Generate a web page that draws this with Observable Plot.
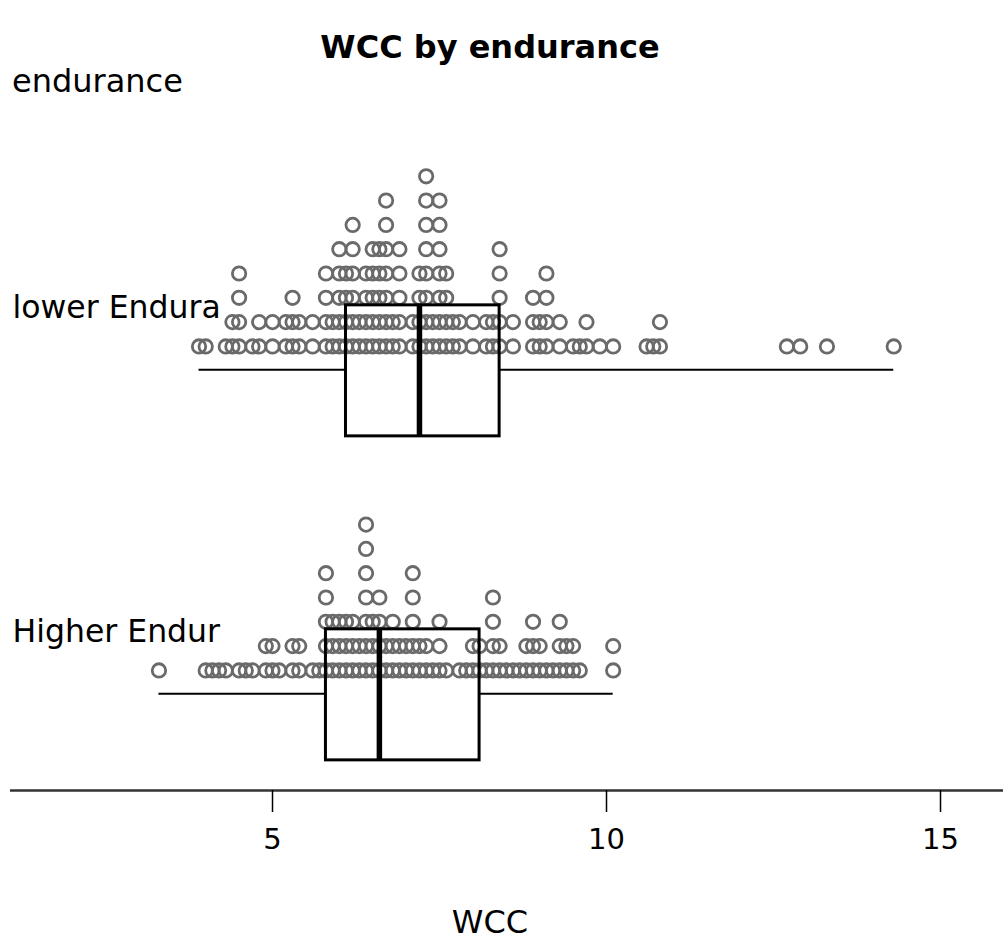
<!DOCTYPE html>
<html>
<head>
<meta charset="utf-8">
<script src="https://cdn.jsdelivr.net/npm/d3@7"></script>
<script src="https://cdn.jsdelivr.net/npm/@observablehq/plot@0.6"></script>
<style>
  body { margin: 0; background: #fff; }
  #chart { position: relative; width: 1005px; height: 947px; font-family: "DejaVu Sans", sans-serif; color: #000; }
  #chart svg { position: absolute; left: 0; top: 0; }
  .lbl { position: absolute; white-space: nowrap; }
</style>
</head>
<body>
<div id="chart">
  <div class="lbl" style="left:0;width:980px;text-align:center;top:31px;font-size:32px;line-height:32px;font-weight:bold">WCC by endurance</div>
  <div class="lbl" style="left:12px;top:65px;font-size:32px;line-height:32px">endurance</div>
  <div class="lbl" style="left:0;width:980px;text-align:center;top:906px;font-size:32px;line-height:32px">WCC</div>
</div>
<script>
// Group labels (as printed, truncated)
const groups = ["lower Endura", "Higher Endur"];

// White cell count readings for each endurance group
const lowerWCC = [
  3.9, 4.0, 4.3, 4.4, 4.4, 4.5, 4.5, 4.5, 4.5, 4.7, 4.8, 4.8, 5.0, 5.0, 5.2, 5.2,
  5.3, 5.3, 5.3, 5.4, 5.4, 5.6, 5.6, 5.8, 5.8, 5.8, 5.8, 5.9, 5.9,
  6.0, 6.0, 6.0, 6.0, 6.0, 6.1, 6.1, 6.1, 6.1, 6.2, 6.2, 6.2, 6.2, 6.2, 6.2,
  6.3, 6.3, 6.4, 6.4, 6.4, 6.4, 6.5, 6.5, 6.5, 6.5, 6.5, 6.6, 6.6, 6.6, 6.6, 6.6,
  6.7, 6.7, 6.7, 6.7, 6.7, 6.7, 6.7, 6.8, 6.8, 6.9, 6.9, 6.9, 6.9, 6.9,
  7.1, 7.1, 7.2, 7.2, 7.2, 7.2, 7.3, 7.3, 7.3, 7.3, 7.3, 7.3, 7.3, 7.3, 7.4, 7.4,
  7.5, 7.5, 7.5, 7.5, 7.5, 7.5, 7.5, 7.6, 7.6, 7.6, 7.6, 7.7, 7.7, 7.8, 7.8,
  8.0, 8.0, 8.2, 8.2, 8.3, 8.3, 8.4, 8.4, 8.4, 8.4, 8.4, 8.6, 8.6,
  8.9, 8.9, 8.9, 9.0, 9.0, 9.1, 9.1, 9.1, 9.1, 9.3, 9.3, 9.5, 9.6, 9.7, 9.7, 9.9,
  10.1, 10.6, 10.7, 10.8, 10.8, 12.7, 12.9, 13.3, 14.3
];
const higherWCC = [
  3.3, 4.0, 4.1, 4.2, 4.3, 4.5, 4.6, 4.7, 4.9, 4.9, 5.0, 5.0, 5.1, 5.3, 5.3, 5.4, 5.4,
  5.6, 5.7, 5.8, 5.8, 5.8, 5.8, 5.8, 5.9, 5.9, 5.9, 6.0, 6.0, 6.0, 6.1, 6.1, 6.1,
  6.2, 6.2, 6.2, 6.3, 6.3, 6.4, 6.4, 6.4, 6.4, 6.4, 6.4, 6.4, 6.5, 6.5, 6.5,
  6.6, 6.6, 6.6, 6.6, 6.7, 6.7, 6.8, 6.8, 6.8, 6.9, 6.9, 7.0, 7.0,
  7.1, 7.1, 7.1, 7.1, 7.1, 7.2, 7.2, 7.3, 7.3, 7.4, 7.5, 7.5, 7.5, 7.6,
  7.8, 7.9, 8.0, 8.0, 8.1, 8.1, 8.2, 8.3, 8.3, 8.3, 8.3, 8.4, 8.4, 8.5, 8.6, 8.7,
  8.8, 8.8, 8.9, 8.9, 8.9, 9.0, 9.0, 9.1, 9.2, 9.3, 9.3, 9.3, 9.4, 9.4, 9.5, 9.5,
  9.6, 10.1, 10.1
];

// Five-number summaries per group (same order as groups)
const wccMin    = [3.9, 3.3];
const wccQ1     = [6.1, 5.8];
const wccMedian = [7.2, 6.6];
const wccQ3     = [8.4, 8.1];
const wccMax    = [14.3, 10.1];

// Axis ticks
const xTicks = [5, 10, 15];

const points = [
  ...lowerWCC.map(v => ({group: groups[0], wcc: v})),
  ...higherWCC.map(v => ({group: groups[1], wcc: v}))
];
const summary = groups.map((g, i) => ({
  group: g, min: wccMin[i], q1: wccQ1[i], median: wccMedian[i], q3: wccQ3[i], max: wccMax[i]
}));

// Vertical layout inside each facet, in units of one stacked-dot row
const boxTop = 1.69, boxBottom = -3.7, whiskerY = -0.96, labelY = 1.17, axisY = -4.94;

const svg = Plot.plot({
  width: 1005,
  height: 947,
  marginLeft: 10,
  marginRight: 2,
  marginTop: 142,
  marginBottom: 157,
  style: {fontFamily: "DejaVu Sans, sans-serif", background: "transparent", overflow: "visible", color: "#000"},
  x: {domain: [1.0778, 15.943], axis: null},
  y: {domain: [axisY, 8.39], axis: null},
  fy: {domain: groups, padding: 0, axis: null},
  marks: [
    // axis baseline under the lower facet
    Plot.ruleY([groups[1]], {fy: d => d, y: axisY, stroke: "#333", strokeWidth: 2.5}),
    // stacked dot plot of individual readings
    Plot.dot(points, Plot.stackY1({
      x: "wcc", y: 1, fy: "group",
      r: 6.7, fill: "none", stroke: "#6a6a6a", strokeWidth: 2.8
    })),
    // whiskers
    Plot.ruleY(summary, {fy: "group", y: whiskerY, x1: "min", x2: "q1", stroke: "#000", strokeWidth: 2.2}),
    Plot.ruleY(summary, {fy: "group", y: whiskerY, x1: "q3", x2: "max", stroke: "#000", strokeWidth: 2.2}),
    // box
    Plot.rect(summary, {fy: "group", x1: "q1", x2: "q3", y1: boxBottom, y2: boxTop,
      fill: "none", stroke: "#000", strokeWidth: 3}),
    // median
    Plot.ruleX(summary, {fy: "group", x: "median", y1: boxBottom, y2: boxTop, stroke: "#000", strokeWidth: 5.5}),
    // group labels
    Plot.text(groups, {fy: d => d, text: d => d, frameAnchor: "left", y: labelY, dx: 2,
      textAnchor: "start", lineAnchor: "bottom", fontSize: 31.5, fill: "#000"}),
    // x axis
    Plot.axisX({ticks: xTicks, tickSize: 22, tickPadding: 16, fontSize: 29, strokeWidth: 1.5,
      color: "#000", label: null})
  ]
});
document.getElementById("chart").prepend(svg);
</script>
</body>
</html>
